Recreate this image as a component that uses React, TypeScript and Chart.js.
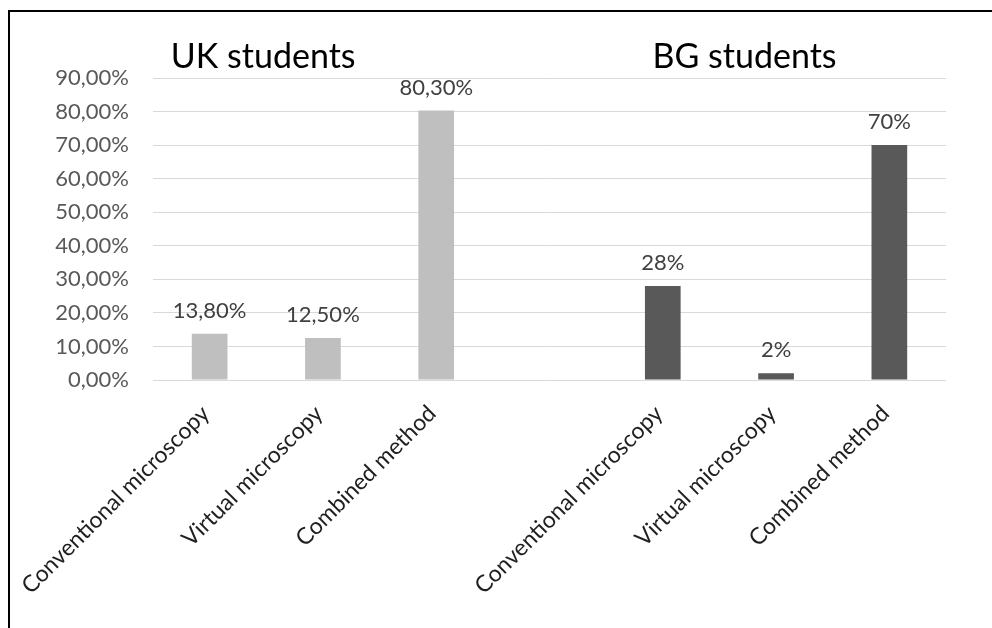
import React, { useEffect, useRef } from "react";
import { Chart, registerables } from "chart.js";

Chart.register(...registerables);

// Method categories; the blank slot separates the two student groups
const categories = [
  "Conventional microscopy",
  "Virtual microscopy",
  "Combined method",
  "",
  "Conventional microscopy",
  "Virtual microscopy",
  "Combined method",
];

// Share of students preferring each method (%)
const ukValues = [13.8, 12.5, 80.3, null, null, null, null];
const bgValues = [null, null, null, null, 28, 2, 70];

// Decimal places used in each group's value labels
const ukDecimals = 2;
const bgDecimals = 0;

const groupTitles = ["UK students", "BG students"];

const yMax = 90;
const yStep = 10;

const FONT = "Lato, 'Noto Sans', sans-serif";

const fmtPct = (v: number, decimals: number) =>
  v.toFixed(decimals).replace(".", ",") + "%";

const valueLabels = {
  id: "valueLabels",
  afterDatasetsDraw(chart: any) {
    const ctx = chart.ctx;
    ctx.save();
    ctx.font = `22px ${FONT}`;
    ctx.fillStyle = "#404040";
    ctx.textAlign = "center";
    ctx.textBaseline = "alphabetic";
    chart.data.datasets.forEach((ds: any, di: number) => {
      const meta = chart.getDatasetMeta(di);
      meta.data.forEach((el: any, i: number) => {
        const v = ds.data[i];
        if (v === null || v === undefined) return;
        ctx.fillText(fmtPct(v, ds.decimals), el.x, el.y - 16);
      });
    });
    ctx.restore();
  },
};

const groupTitleLabels = {
  id: "groupTitleLabels",
  afterDraw(chart: any) {
    const ctx = chart.ctx;
    const { left, right, top } = chart.chartArea;
    const w = right - left;
    ctx.save();
    ctx.font = `34px ${FONT}`;
    ctx.fillStyle = "#000000";
    ctx.textAlign = "center";
    ctx.textBaseline = "alphabetic";
    ctx.fillText(groupTitles[0], left + w * 0.139, top - 10);
    ctx.fillText(groupTitles[1], left + w * 0.746, top - 10);
    ctx.restore();
  },
};

export default function App() {
  const canvasRef = useRef<HTMLCanvasElement | null>(null);

  useEffect(() => {
    const canvas = canvasRef.current;
    if (!canvas) return;
    const chart = new Chart(canvas, {
      type: "bar",
      data: {
        labels: categories,
        datasets: [
          {
            label: groupTitles[0],
            data: ukValues,
            backgroundColor: "#bfbfbf",
            decimals: ukDecimals,
          } as any,
          {
            label: groupTitles[1],
            data: bgValues,
            backgroundColor: "#595959",
            decimals: bgDecimals,
          } as any,
        ],
      },
      options: {
        responsive: false,
        animation: false,
        skipNull: true,
        categoryPercentage: 1,
        barPercentage: 0.315,
        layout: { padding: { left: 0, top: 78, right: 46, bottom: 0 } },
        plugins: {
          legend: { display: false },
          tooltip: { enabled: false },
        },
        scales: {
          x: {
            grid: { display: false },
            border: { display: false },
            ticks: {
              autoSkip: false,
              minRotation: 45,
              maxRotation: 45,
              padding: 12,
              labelOffset: -4,
              color: "#1f1f1f",
              font: { family: FONT, size: 23 },
            },
            afterFit(scale: any) {
              scale.height = 248;
            },
          },
          y: {
            min: 0,
            max: yMax,
            border: { display: false },
            grid: { color: "#d9d9d9", lineWidth: 1, drawTicks: false },
            ticks: {
              stepSize: yStep,
              padding: 24,
              color: "#595959",
              font: { family: FONT, size: 22 },
              callback: (v: any) => fmtPct(Number(v), 2),
            },
            afterFit(scale: any) {
              scale.width = 153;
            },
          },
        },
      } as any,
      plugins: [valueLabels, groupTitleLabels],
    });
    return () => chart.destroy();
  }, []);

  return (
    <div
      style={{
        position: "absolute",
        left: 0,
        top: 0,
        width: 992,
        height: 628,
        overflow: "hidden",
        background: "#ffffff",
      }}
    >
      <div
        style={{
          position: "absolute",
          left: 8,
          top: 10,
          width: 2000,
          height: 2000,
          borderLeft: "2px solid #000",
          borderTop: "2px solid #000",
        }}
      />
      <canvas
        ref={canvasRef}
        width={992}
        height={628}
        style={{ position: "absolute", left: 0, top: 0 }}
      />
    </div>
  );
}
